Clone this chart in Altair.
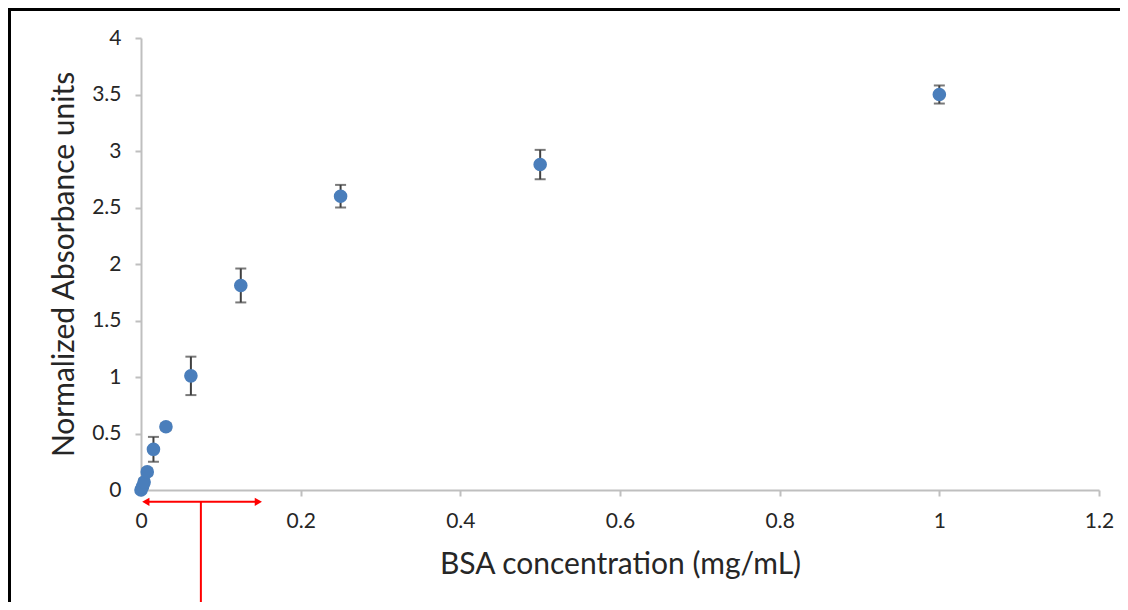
import altair as alt
import pandas as pd

# Data
conc = [0.0, 0.00195, 0.0039, 0.0078, 0.0156, 0.03125, 0.0625, 0.125, 0.25, 0.5, 1.0]
absorb = [0.0, 0.03, 0.07, 0.16, 0.36, 0.56, 1.01, 1.81, 2.60, 2.88, 3.50]
err = [0.02, 0.02, 0.03, 0.03, 0.11, 0.03, 0.17, 0.15, 0.10, 0.13, 0.08]

# Red annotation (data units)
arrow_x = [0.006, 0.147]
arrow_y = [-0.105, -0.105]
stem_x = [0.075, 0.075]
stem_y = [-0.105, -1.2]

df = pd.DataFrame({
    "x": conc,
    "y": absorb,
    "lo": [a - e for a, e in zip(absorb, err)],
    "hi": [a + e for a, e in zip(absorb, err)],
})

FONT = "Lato"
xs = alt.Scale(domain=[0, 1.2], nice=False)
ys = alt.Scale(domain=[0, 4], nice=False)

xax = alt.Axis(values=[0, 0.2, 0.4, 0.6, 0.8, 1.0, 1.2], format="~g", grid=False,
               domainColor="#bfbfbf", domainWidth=2, tickColor="#bfbfbf", tickWidth=2,
               tickSize=6, labelPadding=14, labelFontSize=21, labelColor="#262626",
               labelFont=FONT, labelFlush=False, labelOverlap=False,
               title="BSA concentration (mg/mL)", titleFont=FONT,
               titleFontSize=30, titleFontWeight="normal", titleColor="#262626",
               titlePadding=18)
yax = alt.Axis(values=[0, 0.5, 1, 1.5, 2, 2.5, 3, 3.5, 4], format="~g", grid=False,
               domainColor="#bfbfbf", domainWidth=2, tickColor="#bfbfbf", tickWidth=2,
               tickSize=6, labelPadding=14, labelFontSize=21, labelColor="#262626",
               labelFont=FONT, labelFlush=False, labelOverlap=False,
               title="Normalized Absorbance units", titleFont=FONT,
               titleFontSize=30, titleFontWeight="normal", titleColor="#262626",
               titlePadding=12)

base = alt.Chart(df)

rules = base.mark_rule(color="#404040", strokeWidth=2).encode(
    x=alt.X("x:Q", scale=xs, axis=xax),
    y=alt.Y("lo:Q", scale=ys, axis=yax),
    y2="hi:Q",
)
cap_lo = base.mark_tick(color="#404040", thickness=2, size=11, orient="horizontal").encode(
    x=alt.X("x:Q", scale=xs), y=alt.Y("lo:Q", scale=ys))
cap_hi = base.mark_tick(color="#404040", thickness=2, size=11, orient="horizontal").encode(
    x=alt.X("x:Q", scale=xs), y=alt.Y("hi:Q", scale=ys))
pts = base.mark_circle(color="#4a7ebb", opacity=1, size=185).encode(
    x=alt.X("x:Q", scale=xs), y=alt.Y("y:Q", scale=ys))

arrow_df = pd.DataFrame({"x": arrow_x, "y": arrow_y})
stem_df = pd.DataFrame({"x": stem_x, "y": stem_y})
red_h = alt.Chart(arrow_df).mark_line(color="#ff0000", strokeWidth=2).encode(
    x=alt.X("x:Q", scale=xs), y=alt.Y("y:Q", scale=ys))
red_v = alt.Chart(stem_df).mark_line(color="#ff0000", strokeWidth=2).encode(
    x=alt.X("x:Q", scale=xs), y=alt.Y("y:Q", scale=ys))
head_df = pd.DataFrame({"x": arrow_x, "y": arrow_y, "s": ["triangle-left", "triangle-right"]})
heads = alt.Chart(head_df).mark_point(filled=True, color="#ff0000", opacity=1, size=70).encode(
    x=alt.X("x:Q", scale=xs), y=alt.Y("y:Q", scale=ys),
    shape=alt.Shape("s:N", scale=alt.Scale(domain=["triangle-left", "triangle-right"],
                                           range=["triangle-left", "triangle-right"]), legend=None))

one = pd.DataFrame({"a": [0]})
frame_top = alt.Chart(one).mark_rule(color="black", strokeWidth=3).encode(
    x=alt.value(-133), x2=alt.value(1100), y=alt.value(-28.5))
frame_left = alt.Chart(one).mark_rule(color="black", strokeWidth=3).encode(
    x=alt.value(-131.5), y=alt.value(-30), y2=alt.value(700))

chart = alt.layer(frame_top, frame_left, rules, cap_lo, cap_hi, pts, red_h, red_v, heads).properties(
    width=958, height=452,
    autosize=alt.AutoSizeParams(type="none"),
    padding={"left": 133, "top": 30, "right": 21, "bottom": 112},
).configure_view(stroke=None)

chart.save("out.html", embed_options={"renderer": "svg", "actions": False})
